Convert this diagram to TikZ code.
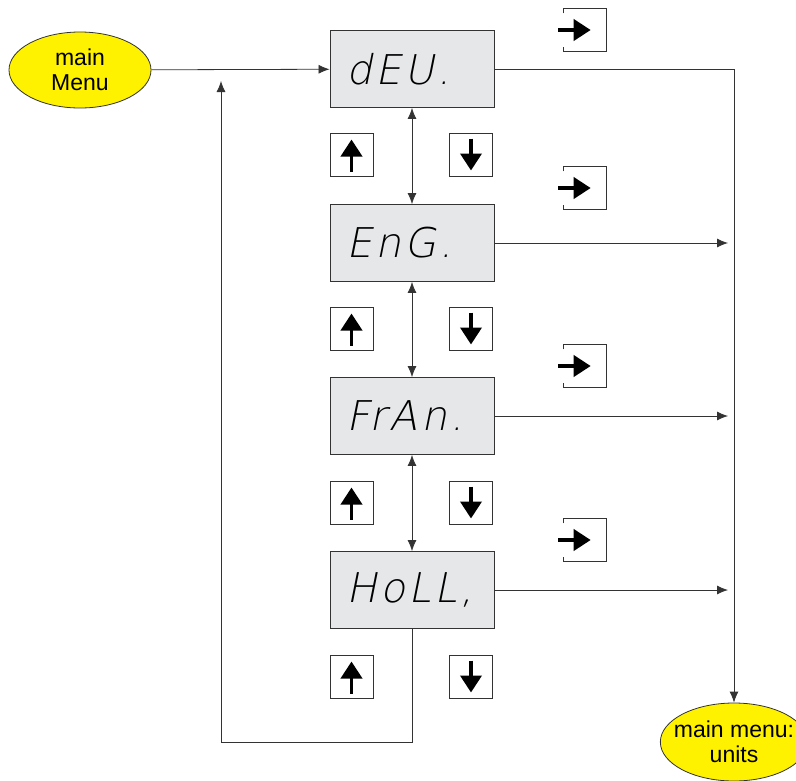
\documentclass[tikz,border=0pt]{standalone}
\usepackage{fontspec}
\setmainfont{Liberation Sans}
\newfontfamily\segfont[FakeSlant=0.2,LetterSpace=8]{DejaVuSans-ExtraLight.ttf}
\usetikzlibrary{arrows.meta,shapes.geometric}
\definecolor{menuyellow}{HTML}{FFF200}
\definecolor{dispgray}{HTML}{E6E7E8}
\definecolor{linegray}{HTML}{333333}
\tikzstyle{menu}=[ellipse,draw=linegray,fill=menuyellow,line width=0.8pt,minimum width=142pt,minimum height=76pt,inner sep=0pt,align=center,font=\fontsize{23}{25}\selectfont]
\tikzstyle{display}=[rectangle,draw=linegray,fill=dispgray,line width=0.9pt,minimum height=77pt,text width=132pt,inner xsep=16pt,inner ysep=0pt,align=left,font=\segfont\fontsize{41}{41}\selectfont]
\tikzstyle{keybox}=[rectangle,draw=linegray,line width=0.8pt,minimum size=43pt,inner sep=0pt]
\tikzstyle{keyarrow}=[black,line width=3.8pt,-{Triangle[length=17pt,width=21pt]}]
\tikzstyle{upkey}=[keybox,path picture={\draw[keyarrow] ([yshift=5pt]path picture bounding box.south) -- ([yshift=-6pt]path picture bounding box.north);}]
\tikzstyle{downkey}=[keybox,path picture={\draw[keyarrow] ([yshift=-5pt]path picture bounding box.north) -- ([yshift=6pt]path picture bounding box.south);}]
\tikzstyle{enterkey}=[rectangle,minimum size=43pt,inner sep=0pt]
\tikzstyle{conn}=[draw=linegray,line width=0.8pt,-{Latex[length=11pt,width=9pt]}]

\begin{document}
\begin{tikzpicture}[x=1pt,y=-1pt]
    \useasboundingbox (0,0) rectangle (796,780);
    % the two menu ellipses
    \node[menu] (mainmenu) at (80,70) {main\\Menu};
    \node[menu,minimum width=144pt,minimum height=78pt,inner xsep=-8pt,inner ysep=-4pt] (units) at (734,742) {main menu:\\units};
    % the four displays
    \foreach \pos/\name/\txt in {{(412,69)/deu/dEU.}, {(412,243)/eng/EnG.}, {(412,416)/fran/FrAn.}, {(412,590)/holl/HoLL,}}
        \node[display] (\name) at \pos {\txt};
    % up and down keys under each display
    \foreach \y/\i in {155/1, 329/2, 503/3, 677/4} {
        \node[upkey] (up\i) at (351.5,\y) {};
        \node[downkey] (down\i) at (471,\y) {};
    }
    % enter keys
    \foreach \y/\i in {30/1, 188/2, 366/3, 540/4} {
        \node[enterkey] (enter\i) at (585,\y) {};
        \draw[draw=linegray,line width=0.8pt] ([yshift=-5pt]enter\i.north west) -- (enter\i.north west) -- (enter\i.north east)
            -- (enter\i.south east) -- (enter\i.south west) -- ([yshift=5pt]enter\i.south west);
        \draw[keyarrow] ([xshift=-5pt]enter\i.west) -- ([xshift=-16pt]enter\i.east);
    }
    % connections
    \path[conn] (mainmenu) -- (deu);
    \foreach \source/\dest in {deu/eng, eng/fran, fran/holl}
        \path[conn,{Latex[length=11pt,width=9pt]}-{Latex[length=11pt,width=9pt]}] (\source.south) -- (\dest.north);
    \path[conn] (deu.east) -| (units.north);
    \foreach \name in {eng, fran, holl}
        \path[conn,shorten >=6pt] (\name.east) -- (\name.east -| units.north);
    % back to the first display
    \coordinate (loopc) at (221,742);
    \coordinate (looptop) at (221,81);
    \path[conn] (holl.south) |- (loopc) -- (looptop);
\end{tikzpicture}
\end{document}
